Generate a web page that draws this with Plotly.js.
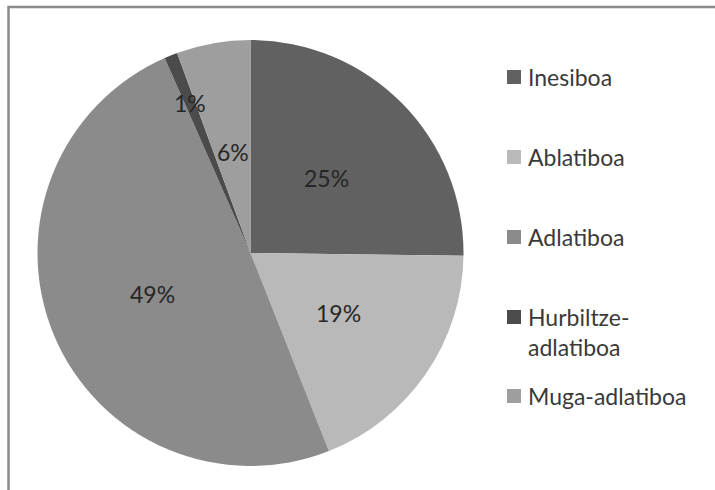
<!DOCTYPE html>
<html>
<head>
<meta charset="utf-8">
<script src="https://cdn.plot.ly/plotly-3.0.1.min.js"></script>
<style>
  html, body { margin: 0; padding: 0; background: #ffffff; }
  #chart { width: 715px; height: 490px; }
</style>
</head>
<body>
<div id="chart"></div>
<script>
// ---- data ----
var categories = ["Inesiboa", "Ablatiboa", "Adlatiboa", "Hurbiltze-adlatiboa", "Muga-adlatiboa"];
var legendLabels = ["Inesiboa", "Ablatiboa", "Adlatiboa", "Hurbiltze-<br>adlatiboa", "Muga-adlatiboa"];
var shares = [25.2, 18.8, 49.4, 1.0, 5.6];

// ---- styles ----
var sliceColors = ["#616161", "#b9b9b9", "#8b8b8b", "#4b4b4b", "#9e9e9e"];
var labelRadius = [0.5, 0.5, 0.5, 0.76, 0.48];   // label distance from centre, as a fraction of radius
var FONT = "Lato, 'Noto Sans', sans-serif";
var W = 715, H = 490;
var pieDomain = {x: [37.5 / W, 463.5 / W], y: [24 / H, 450 / H]};

var trace = {
  type: "pie",
  labels: categories,
  values: shares,
  sort: false,
  direction: "clockwise",
  rotation: 0,
  marker: {colors: sliceColors, line: {width: 0}},
  textinfo: "none",
  hoverinfo: "label+percent",
  showlegend: false,
  domain: pieDomain
};

// percentage labels placed from the data (mid-angle of each slice)
var total = shares.reduce(function (a, b) { return a + b; }, 0);
var cx = (pieDomain.x[0] + pieDomain.x[1]) / 2 * W;
var cy = (pieDomain.y[0] + pieDomain.y[1]) / 2 * H;
var R = Math.min((pieDomain.x[1] - pieDomain.x[0]) * W, (pieDomain.y[1] - pieDomain.y[0]) * H) / 2;
var annotations = [];
var shapes = [];
var cum = 0;
for (var i = 0; i < shares.length; i++) {
  var mid = (cum + shares[i] / 2) / total * 2 * Math.PI;
  cum += shares[i];
  var r = labelRadius[i] * R;
  var px = cx + r * Math.sin(mid);
  var py = cy + r * Math.cos(mid);
  annotations.push({
    xref: "paper", yref: "paper",
    x: px / W, y: py / H,
    xanchor: "center", yanchor: "middle",
    text: Math.round(shares[i] / total * 100) + "%",
    showarrow: false,
    font: {family: FONT, size: 23, color: "#262626"}
  });
}

// legend (squares + text)
var legendTop = 77, legendStep = 80, legendX = 507, sq = 14;
for (var j = 0; j < categories.length; j++) {
  var yc = legendTop + j * legendStep - (j === 4 ? 1 : 0);
  shapes.push({
    type: "rect", xref: "paper", yref: "paper",
    x0: legendX / W, x1: (legendX + sq) / W,
    y0: 1 - (yc + sq / 2) / H, y1: 1 - (yc - sq / 2) / H,
    fillcolor: sliceColors[j], line: {width: 0}
  });
  annotations.push({
    xref: "paper", yref: "paper",
    x: (legendX + sq + 5) / W, y: 1 - (yc - 16) / H,
    xanchor: "left", yanchor: "top", align: "left",
    text: legendLabels[j],
    showarrow: false,
    font: {family: FONT, size: 23, color: "#3a3a3a"}
  });
}

// outer frame
shapes.push({
  type: "rect", xref: "paper", yref: "paper",
  x0: 8.5 / W, x1: 1.02, y0: -0.02, y1: 1 - 7 / H,
  line: {color: "#8a8a8a", width: 2.5}, fillcolor: "rgba(0,0,0,0)"
});

var layout = {
  width: W, height: H,
  margin: {l: 0, r: 0, t: 0, b: 0},
  paper_bgcolor: "#ffffff",
  plot_bgcolor: "#ffffff",
  showlegend: false,
  annotations: annotations,
  shapes: shapes
};

Plotly.newPlot("chart", [trace], layout, {displayModeBar: false, staticPlot: true});
</script>
</body>
</html>
